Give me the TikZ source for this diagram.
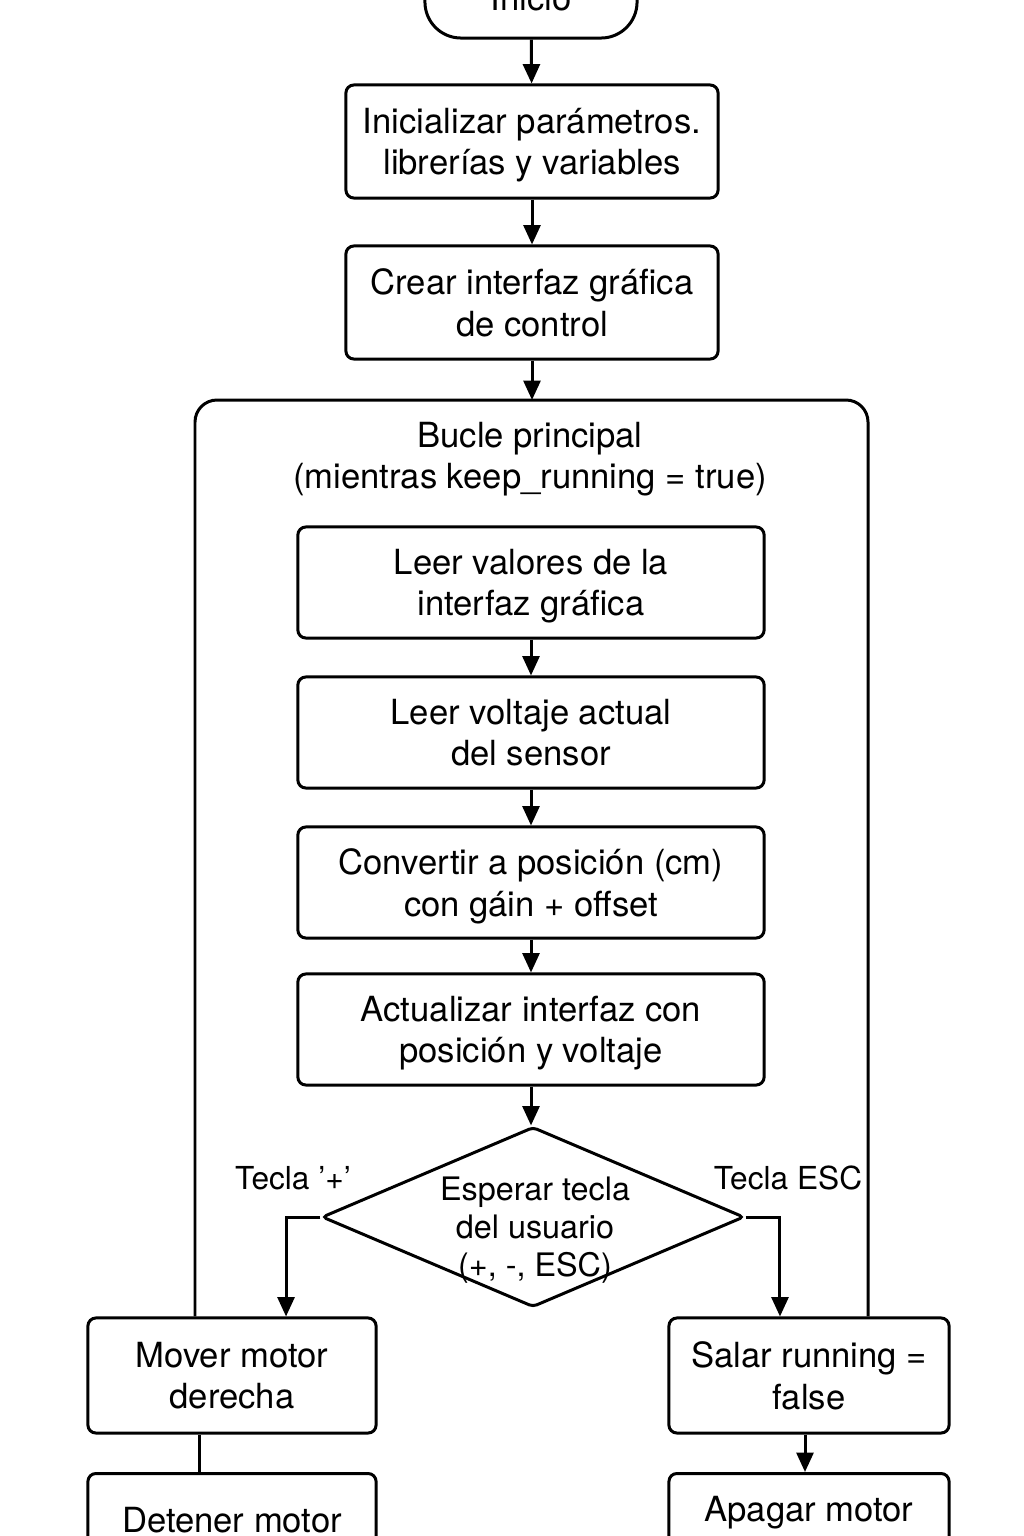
\documentclass[tikz,border=0pt]{standalone}
\usepackage{fontspec}
\setmainfont{TeX Gyre Heros}
\usetikzlibrary{shapes.geometric,arrows.meta}
\tikzset{
  term/.style={draw, rounded corners=0.36cm, line width=0.85pt, minimum width=2.12cm, minimum height=0.8cm, font=\fontsize{9.85}{11.7}\selectfont},
  proc/.style={draw, rounded corners=0.08cm, line width=0.85pt, align=center, inner sep=0pt, text depth=0pt, font=\fontsize{9.85}{11.7}\selectfont},
  procwide/.style={proc, minimum width=3.72cm, minimum height=1.13cm},
  procin/.style={proc, minimum width=4.66cm, minimum height=1.11cm},
  procside/.style={proc, minimum height=1.15cm},
  dec/.style={diamond, draw, rounded corners=0.04cm, line width=0.85pt, minimum width=4.22cm, minimum height=1.8cm, inner sep=0pt},
  txt/.style={align=center, inner sep=0pt, font=\fontsize{9.85}{11.7}\selectfont},
  lbl/.style={inner sep=0pt, font=\fontsize{9}{10.8}\selectfont},
  arr/.style={line width=0.85pt, -{Triangle[length=5.5pt,width=4.8pt]}},
  ln/.style={line width=0.85pt}
}

\begin{document}
\begin{tikzpicture}[x=0.01cm, y=-0.01cm]
  \clip (0,0) rectangle (1024,1536);
  % arranque
  \node[term] (ini) at (531,-2) {Inicio};
  \node[procwide] (init) at (532,141.5) {Inicializar parámetros.\\librerías y variables};
  \node[procwide] (gui) at (532,302.5) {Crear interfaz gráfica\\de control};
  % bucle principal
  \coordinate (lpL) at (195,400);
  \coordinate (lpR) at (868,400);
  \node[txt] (ttl) at (530,459) {Bucle principal\\(mientras keep\_running = true)};
  \node[procin] (rd) at (531,582.5) {Leer valores de la\\interfaz gráfica};
  \node[procin] (vt) at (531,732.5) {Leer voltaje actual\\del sensor};
  \node[procin] (cv) at (531,882.5) {Convertir a posición (cm)\\con gáin + offset};
  \node[procin] (upd) at (531,1029.5) {Actualizar interfaz con\\posición y voltaje};
  \node[dec] (wait) at (533,1217) {};
  \node[txt, font=\fontsize{9.2}{10.8}\selectfont] (waitt) at (535,1230) {Esperar tecla\\del usuario\\(+, -, ESC)};
  \node[lbl] (kp) at (293,1178) {Tecla ’+’};
  \node[lbl] (ke) at (788,1178) {Tecla ESC};
  % ramas
  \node[procside, minimum width=2.88cm] (mov) at (232,1375.5) {Mover motor\\derecha};
  \node[procside, minimum width=2.80cm] (sal) at (809,1375.5) {Salar running =\\false};
  \node[procside, minimum width=2.88cm, anchor=north, text height=0.59cm, text depth=0.56cm] (det) at (232,1472) {Detener motor};
  \node[procside, minimum width=2.80cm, anchor=north, text height=0.48cm, text depth=0.67cm] (apg) at (809,1472) {Apagar motor};

  \draw[arr] (ini) -- (init);
  \draw[arr] (init) -- (gui);
  \draw[arr] (gui) -- (gui.south |- lpL);
  \draw[ln, rounded corners=0.22cm] (lpL |- mov.north) -- (lpL) -- (lpR) -- (lpR |- sal.north);
  \draw[arr] (rd) -- (vt);
  \draw[arr] (vt) -- (cv);
  \draw[arr] (cv) -- (upd);
  \draw[arr] (upd.south) -- (upd.south |- wait.north);
  \draw[arr] (wait.west) -| ([xshift=0.54cm]mov.north);
  \draw[arr] (wait.east) -| ([xshift=-0.29cm]sal.north);
  \draw[ln] ([xshift=-0.32cm]mov.south) -- ([xshift=-0.32cm]det.north);
  \draw[arr] ([xshift=-0.04cm]sal.south) -- ([xshift=-0.04cm]apg.north);
\end{tikzpicture}
\end{document}
